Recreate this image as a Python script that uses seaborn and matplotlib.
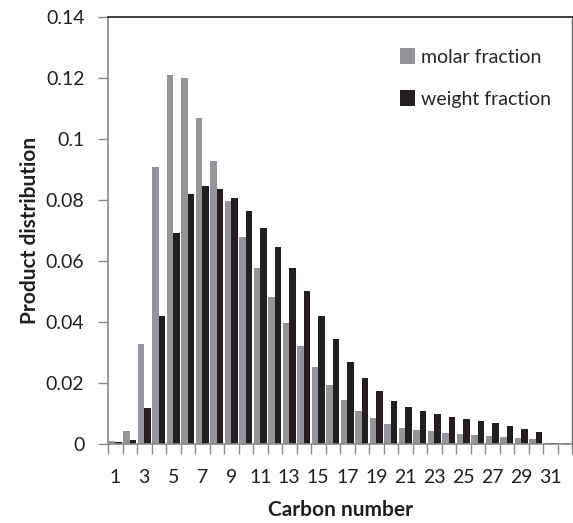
import matplotlib
matplotlib.use("Agg")
import matplotlib.pyplot as plt
import seaborn as sns
import pandas as pd
import numpy as np
from matplotlib.patches import Patch

carbon = list(range(1, 33))
molar = [0.0011, 0.0044, 0.0327, 0.0907, 0.121, 0.120, 0.1068, 0.0927, 0.0796, 0.0679,
         0.0576, 0.0481, 0.0397, 0.0320, 0.0251, 0.0192, 0.0144, 0.0109, 0.0084, 0.0066,
         0.0053, 0.0046, 0.0042, 0.0036, 0.0033, 0.0029, 0.0025, 0.0022, 0.0019, 0.0016,
         0.0003, 0.0003]
weight = [0.0005, 0.0013, 0.0117, 0.0420, 0.0692, 0.0819, 0.0846, 0.0837, 0.0808, 0.0764,
          0.0709, 0.0647, 0.0577, 0.0501, 0.0421, 0.0343, 0.0270, 0.0215, 0.0173, 0.0141,
          0.0121, 0.0108, 0.0097, 0.0090, 0.0083, 0.0076, 0.0068, 0.0058, 0.0049, 0.0040,
          0.0003, 0.0003]
series_names = ["molar fraction", "weight fraction"]
colors = ["#949598", "#231f20"]
yticks = [0, 0.02, 0.04, 0.06, 0.08, 0.1, 0.12, 0.14]
ytick_labels = ["0", "0.02", "0.04", "0.06", "0.08", "0.1", "0.12", "0.14"]

df = pd.DataFrame({
    "carbon": carbon * 2,
    "value": molar + weight,
    "series": [series_names[0]] * len(carbon) + [series_names[1]] * len(carbon),
})

sns.set_style("white")
plt.rcParams["font.family"] = ["Lato", "DejaVu Sans"]

fig = plt.figure(figsize=(5.73, 5.23), dpi=100)
ax = fig.add_axes([108 / 573, 1 - 444 / 523, (572 - 108) / 573, (444 - 17) / 523])

sns.barplot(data=df, x="carbon", y="value", hue="series", palette=colors,
            width=0.92, saturation=1, ax=ax, legend=False, edgecolor="none")

ax.set_xlim(-0.5, len(carbon) - 0.5)
ax.set_ylim(0, 0.14)
ax.set_yticks(yticks)
ax.set_yticklabels(ytick_labels, fontsize=14, color="#231f20")
ax.tick_params(axis="y", length=7, width=1, color="#8a8a8a", direction="out", pad=10, left=True)

major = [i for i, c in enumerate(carbon) if c % 2 == 1]
ax.set_xticks(major)
ax.set_xticklabels([str(carbon[i]) for i in major], fontsize=14, color="#231f20")
ax.tick_params(axis="x", which="major", length=0, pad=18)
ax.set_xticks(np.arange(-0.5, len(carbon), 1.0), minor=True)
ax.tick_params(axis="x", which="minor", length=7, width=1, color="#8a8a8a", direction="out", bottom=True)

for side in ["left", "bottom"]:
    ax.spines[side].set_color("#8a8a8a")
    ax.spines[side].set_linewidth(1.2)
ax.spines["top"].set_color("#231f20")
ax.spines["top"].set_linewidth(1.2)
ax.spines["right"].set_color("#6a6a6a")
ax.spines["right"].set_linewidth(1.0)

ax.set_xlabel("Carbon number", fontsize=15, fontweight="bold", color="#231f20", labelpad=10)
ax.set_ylabel("Product distribution", fontsize=15, fontweight="bold", color="#231f20", labelpad=4)

handles = [Patch(facecolor=c, edgecolor="none", label=n) for c, n in zip(colors, series_names)]
fig.legend(handles=handles, loc="upper left", bbox_to_anchor=(392 / 573, 1 - 40 / 523),
           frameon=False, fontsize=14, handlelength=0.8, handleheight=0.9,
           handletextpad=0.3, labelspacing=1.25, borderaxespad=0)

fig.savefig("out.png", dpi=100)
